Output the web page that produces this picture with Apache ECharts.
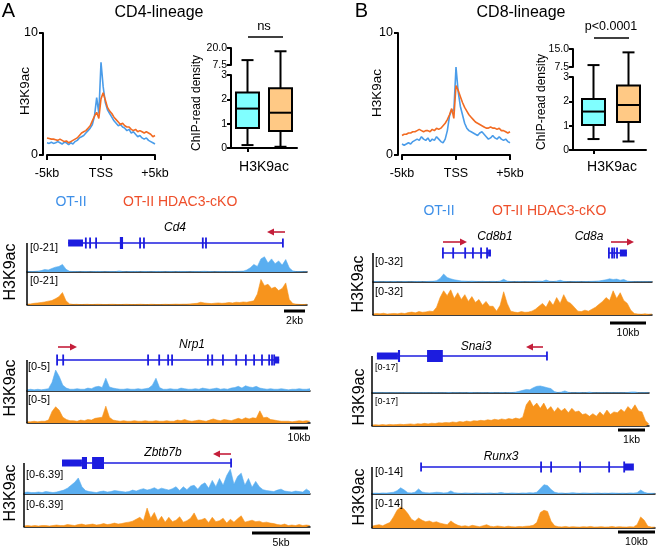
<!DOCTYPE html>
<html><head><meta charset="utf-8">
<script src="https://cdn.jsdelivr.net/npm/echarts@6/dist/echarts.min.js"></script>
<style>html,body{margin:0;padding:0;background:#fff}#c{width:658px;height:546px}</style>
</head><body><div id="c"></div>
<script>
// ---------------- DATA ----------------
// Profile plots: -5kb .. +5kb around TSS, 51 bins (0.2 kb)
const profTickIdx = [0, 25, 50];
const profTickLabels = ['-5kb', 'TSS', '+5kb'];
const profA_OTII = [1.0,0.95,1.05,0.95,1.0,1.1,1.0,0.9,1.05,1.0, 0.85,1.0,0.9,1.1,1.2,1.4,1.5,1.6,1.8,2.0, 2.2,2.5,3.2,4.7,3.4,7.6,5.6,4.3,3.7,3.4, 3.1,2.8,2.6,2.4,2.5,2.3,2.2,2.0,2.1,1.8, 1.9,1.7,1.5,1.6,1.4,1.3,1.4,1.2,1.1,1.0,0.9];
const profA_cKO  = [1.4,1.35,1.3,1.3,1.25,1.2,1.3,1.2,1.1,1.15, 1.0,1.1,1.2,1.3,1.4,1.6,1.8,1.9,2.0,2.2, 2.4,2.8,3.2,3.5,3.0,4.6,5.1,4.5,3.9,3.6, 3.4,3.1,2.9,2.7,2.5,2.6,2.4,2.3,2.3,2.1, 2.0,2.1,1.9,2.0,1.9,1.8,1.9,1.8,1.7,1.5,1.6];
const profB_OTII = [0.9,0.8,0.9,1.0,0.9,1.1,1.2,1.3,1.2,1.5, 1.3,1.2,1.4,1.1,1.3,1.2,1.5,1.3,1.1,1.0, 1.3,2.0,3.2,3.7,3.6,7.2,5.2,4.0,3.3,2.6, 2.2,2.0,1.9,1.8,1.7,1.6,1.8,1.9,1.7,1.5, 1.3,1.4,1.6,1.4,1.3,1.5,1.3,1.2,1.3,1.1,1.0];
const profB_cKO  = [1.6,1.7,1.7,1.8,1.8,1.9,1.9,2.0,2.1,2.0, 1.9,2.0,2.0,1.9,2.1,2.0,2.2,2.1,2.2,2.4, 2.6,2.9,3.3,3.8,3.0,5.7,5.3,4.8,4.3,3.9, 3.6,3.3,3.1,2.9,2.7,2.6,2.5,2.4,2.3,2.2, 2.2,2.3,2.2,2.2,2.1,2.2,2.0,2.0,1.9,1.8,1.9];

// Box plots: [min, q1, median, q3, max]
const boxCats = ['OT-II', 'OT-II HDAC3-cKO'];
const boxA_OTII = [0.12, 0.82, 1.62, 2.28, 11.1];
const boxA_cKO  = [0.05, 0.70, 1.45, 2.46, 17.6];
const boxB_OTII = [0.45, 1.03, 1.58, 2.10, 8.3];
const boxB_cKO  = [0.35, 1.15, 1.85, 2.65, 13.6];
const boxA_topTicks = [7.5, 20];
const boxB_topTicks = [7.5, 15];
const boxSig = ['ns', 'p<0.0001'];

// Genome browser tracks (80 bins each)
const cd4Max = 21, nrp1Max = 5, zbtbMax = 6.39, cd8Max = 32, snai3Max = 17, runx3Max = 14;
const cd4OTII = [0.3,0.3,0.4,0.6,1.0,1.8,1.5,2.5,3.5,4.0, 5.5,2.0,0.5,0.3,0.3,0.2,0.3,0.3,0.2,0.3, 0.4,0.3,0.2,0.3,0.3,0.3,0.8,0.3,0.2,0.3, 0.3,0.4,0.2,0.3,0.3,0.2,0.3,0.4,0.3,0.2, 0.3,0.3,0.2,0.4,0.3,0.3,0.2,0.3,0.3,0.4, 0.5,0.4,0.3,0.2,0.3,0.3,0.4,0.3,0.3,0.4, 0.5,0.6,1.5,3.0,5.5,4.0,9.5,11.0,6.5,9.5, 6.0,8.0,5.0,9.0,3.0,0.8,0.3,0.3,0.2,0.3];
const cd4cKO  = [0.6,0.8,1.2,1.5,1.8,2.2,2.8,3.2,4.5,6.0, 9.0,3.0,0.8,0.4,0.5,0.3,0.4,0.5,0.3,0.4, 0.5,0.4,0.3,0.4,0.5,0.4,0.3,0.4,0.5,0.4, 0.3,0.4,0.5,0.4,0.3,0.5,0.4,0.3,0.4,0.5, 0.4,0.5,0.6,0.5,0.6,0.6,0.8,1.0,1.2,2.0, 1.5,1.2,1.0,1.3,1.5,1.2,1.4,1.8,1.5,2.0, 1.8,2.2,2.0,2.5,3.0,8.0,18.5,14.0,15.0,12.0, 13.0,10.5,12.0,16.0,4.0,1.0,0.6,0.4,0.3,0.5];
const nrp1OTII = [0.2,0.3,0.2,0.3,0.2,0.3,0.4,1.5,3.6,2.5, 1.0,0.5,0.3,0.3,0.4,0.3,0.3,0.5,0.4,0.7, 0.8,0.6,2.2,0.7,0.5,0.4,0.3,0.3,0.4,0.3, 0.3,0.4,0.3,0.4,0.5,1.0,2.2,0.6,0.3,0.3, 0.4,0.3,0.3,0.5,0.4,0.3,0.3,0.4,0.3,0.5, 0.4,0.3,0.4,0.5,0.3,0.4,0.3,0.5,0.6,0.8, 0.5,0.9,0.7,0.6,0.8,0.5,0.4,0.3,0.4,0.3, 0.3,0.4,0.3,0.2,0.3,0.3,0.4,0.3,0.3,0.4];
const nrp1cKO  = [0.2,0.2,0.3,0.2,0.3,0.3,0.5,2.0,2.8,2.2, 1.0,0.6,0.4,0.4,0.3,0.5,0.4,0.6,0.5,0.8, 0.9,1.0,2.9,1.0,0.5,0.4,0.3,0.4,0.3,0.3, 0.4,0.3,0.3,0.4,0.3,0.3,0.4,0.3,0.3,0.4, 0.3,0.3,0.5,0.4,0.6,0.4,0.3,0.4,0.5,0.4, 0.3,0.5,0.7,0.5,0.4,0.6,0.5,0.4,0.6,0.8, 0.6,0.9,0.7,0.9,0.8,2.1,0.9,1.0,0.6,0.5, 0.4,0.3,0.3,0.3,0.2,0.3,0.4,0.3,0.4,0.3];
const zbtbOTII = [0.3,0.4,0.3,0.3,0.4,0.3,0.5,0.4,0.3,0.4, 0.6,0.8,1.2,1.8,2.4,3.3,1.5,0.7,0.5,0.4, 0.3,0.5,0.6,0.4,0.5,0.7,0.6,0.5,0.4,0.5, 0.8,0.6,0.9,1.1,0.8,1.0,1.3,0.9,1.2,1.0, 0.8,1.1,1.5,0.7,1.5,0.9,1.6,1.8,1.0,1.9, 2.3,1.2,2.8,1.5,3.2,1.8,3.8,5.1,2.0,3.6, 4.3,1.8,3.2,1.4,2.6,1.5,0.9,0.7,0.6,0.5, 0.8,1.0,0.6,0.5,0.4,0.6,0.5,0.4,1.0,0.5];
const zbtbcKO  = [0.2,0.3,0.2,0.3,0.2,0.3,0.3,0.2,0.3,0.4, 0.3,0.3,0.5,0.4,0.3,0.5,0.6,0.4,0.5,0.6, 0.4,0.5,0.7,0.5,0.6,0.8,0.6,0.7,0.9,1.0, 1.2,1.6,2.0,1.3,3.9,1.8,3.0,1.2,2.2,1.0, 2.0,1.1,1.4,2.1,1.0,1.3,1.8,2.9,1.4,1.5, 1.8,0.9,2.0,1.1,1.3,1.8,0.8,1.6,1.0,1.7, 2.3,1.0,1.2,1.4,1.1,1.2,0.9,1.0,0.8,0.7, 0.5,0.4,0.6,0.3,0.4,0.3,0.5,0.3,0.4,0.3];
const cd8OTII = [0.4,0.5,0.3,0.4,0.5,0.4,0.6,0.3,0.4,0.5, 0.4,0.3,0.5,0.6,0.4,0.5,0.7,0.8,1.5,4.0, 8.8,5.0,3.5,2.5,1.8,1.2,1.0,0.8,1.0,0.7, 0.6,0.8,0.5,0.6,0.7,0.5,1.0,3.0,1.0,0.5, 0.4,0.6,0.5,0.4,0.5,0.6,0.8,1.0,0.7,2.2, 0.8,0.6,1.0,2.0,0.7,0.5,0.4,0.5,0.6,0.4, 0.5,0.6,0.7,0.9,1.2,1.8,2.5,3.5,2.8,3.2, 2.0,2.8,1.0,0.5,0.4,0.3,0.4,0.3,0.3,0.4];
const cd8cKO  = [1.0,1.5,1.2,1.8,1.0,1.4,1.6,1.2,2.0,1.5, 2.5,3.0,2.2,3.5,2.8,3.2,4.0,3.5,8.0,18.0, 25.0,20.0,26.0,17.0,23.0,16.0,21.0,14.0,19.0,13.0, 16.0,10.0,14.0,9.0,9.0,4.0,10.0,24.0,12.0,4.0, 3.0,2.5,3.5,2.8,3.0,4.0,6.0,9.0,12.0,8.0, 15.0,10.0,18.0,12.0,21.0,14.0,12.0,8.0,4.0,3.5, 5.0,4.0,6.0,8.0,11.0,14.0,18.0,15.0,25.0,17.0, 23.0,15.0,12.0,5.0,1.5,1.0,0.8,1.2,0.8,1.0];
const snai3OTII = [0.1,0.2,0.1,0.1,0.2,0.1,0.1,0.2,0.1,0.1, 0.2,0.1,0.1,0.2,0.1,0.2,0.1,0.1,0.2,0.1, 0.1,0.2,0.3,0.1,0.2,0.1,0.2,0.1,0.3,0.2, 0.1,0.2,0.2,0.1,0.3,0.2,0.2,0.3,0.2,0.3, 0.3,0.5,1.0,1.5,2.0,1.8,3.0,3.8,4.0,3.5, 3.0,2.5,0.8,0.3,0.5,1.2,0.4,0.2,0.2,0.3, 0.2,0.2,0.5,0.2,0.1,0.2,0.2,0.1,0.2,0.1, 0.2,0.1,0.2,0.3,0.6,0.6,0.2,0.1,0.2,0.1];
const snai3cKO  = [0.5,0.7,0.5,0.8,0.6,0.9,0.7,0.8,1.0,0.8, 1.0,1.2,0.9,1.3,1.1,1.5,1.2,1.6,1.4,1.8, 1.7,2.0,1.8,2.3,2.0,2.5,2.2,2.8,2.4,3.0, 2.8,3.2,3.0,3.5,3.2,3.8,3.4,4.0,3.6,4.2, 3.8,4.5,4.0,5.0,12.0,14.7,11.0,13.0,10.0,13.0, 9.0,11.0,8.0,10.5,8.5,10.0,7.5,10.0,8.0,8.5, 6.5,7.0,5.5,7.0,5.5,8.0,6.0,9.0,6.5,8.0, 7.5,9.5,8.0,11.0,9.0,12.0,8.5,8.0,3.0,1.0];
const runx3OTII = [0.3,0.4,0.3,0.5,0.4,0.6,0.8,1.5,2.8,1.8, 0.6,0.5,0.8,2.3,0.9,0.6,0.5,0.6,0.8,0.7, 0.5,0.6,1.4,0.6,0.4,0.3,0.5,0.4,0.3,0.5, 0.4,0.3,0.4,0.5,0.3,0.4,0.7,0.4,0.3,0.5, 0.4,0.3,0.5,0.4,0.6,0.5,0.8,2.5,4.2,3.8, 2.0,0.8,0.4,0.5,0.3,0.4,0.6,0.4,0.3,0.5, 0.4,0.3,0.4,0.5,0.3,0.4,0.3,0.5,0.4,0.3, 0.4,0.3,0.5,0.4,0.6,1.8,0.8,0.3,0.3,0.3];
const runx3cKO  = [0.8,1.2,1.5,1.0,1.8,2.5,5.0,8.0,9.5,8.5, 6.5,4.0,3.0,4.5,3.5,2.8,3.2,2.5,2.8,2.2, 1.8,1.5,3.2,2.0,1.2,0.8,1.0,0.7,1.2,0.9, 0.6,1.0,1.5,0.8,0.6,0.9,0.7,0.5,0.8,0.6, 0.5,0.7,0.6,0.8,0.9,1.2,2.5,7.0,8.0,7.5, 3.0,1.0,0.6,0.5,0.7,0.4,0.6,0.5,0.4,0.6, 0.5,0.7,0.4,0.5,0.6,0.4,0.5,0.7,0.4,0.6, 0.5,0.4,0.6,0.5,1.5,5.0,3.5,0.8,0.4,0.4];

// Gene models (track bin units 0..79)
const cd4Span = [[11.6,72.2]], cd4Exons = [16.6,17.8,19.5,31.9,33.0,49.6,50.5], cd4Cds = [[26.2,27.1]], cd4Utr = [[11.6,15.8]], cd4Caps = [72.2];
const nrp1Span = [[8.4,70.4]], nrp1Exons = [8.4,10.1,33.8,36.9,39.4,40.5,50.5,51.7,54.7,58.4,61.1,63.4,65.6,67.6,68.4,69.0], nrp1Cds = [], nrp1Utr = [[69.2,70.4]], nrp1Caps = [];
const zbtbSpan = [[10.5,57.2]], zbtbExons = [], zbtbCds = [[16.0,17.4],[18.8,22.1]], zbtbUtr = [[10.5,16.0]], zbtbCaps = [57.2];
const cd8Span = [[19.8,33.4],[66.8,71.9]], cd8Exons = [19.8,22.7,26.1,28.3,30.6,32.3,66.8,67.7,68.3,69.1], cd8Cds = [], cd8Utr = [[32.6,33.4],[69.9,71.9]], cd8Caps = [];
const snai3Span = [[1.4,49.9]], snai3Exons = [], snai3Cds = [[7.4,8.0],[15.7,20.2]], snai3Utr = [[1.4,7.4]], snai3Caps = [49.9];
const runx3Span = [[13.7,72.9]], runx3Exons = [47.2,50.0,58.1,66.2,70.4], runx3Cds = [], runx3Utr = [[70.6,73.1]], runx3Caps = [13.7];
const geneNames = ['Cd4','Nrp1','Zbtb7b','Cd8b1','Cd8a','Snai3','Runx3'];
const scaleBarLabels = ['2kb','10kb','5kb','10kb','1kb','10kb'];

// ---------------- STYLE / LAYOUT ----------------
const FONT = '"Liberation Sans", Arial, Helvetica, sans-serif';
const LINE_BLUE = '#4a9ce9', LINE_ORANGE = '#f26b22';
const TRACK_BLUE = '#5aaef0', TRACK_ORANGE = '#f7941d';
const GENE_COLOR = '#1c1cdf', ARROW_COLOR = '#c41e3a';
const LEG_BLUE = '#3d8fe8', LEG_RED = '#ee4f2b';
const BOX_FILLS = ['#80ffff', '#ffc985'];

const grid = [], xAxis = [], yAxis = [], series = [], graphic = [];
function addGrid(g, xa, ya) { const i = grid.length; grid.push(g); xa.gridIndex = i; ya.gridIndex = i; xAxis.push(xa); yAxis.push(ya); return i; }
const blackLine = w => ({ show: true, lineStyle: { color: '#000', width: w } });
const profBins = profA_OTII.map((_, i) => i);
const trackBins = cd4OTII.map((_, i) => i);

function T(x, y, text, size, color, opt) {
  opt = opt || {};
  graphic.push({ type: 'text', x, y, rotation: opt.rot || 0, z: 100,
    style: { text, fontSize: size, fontFamily: FONT, fill: color || '#000', align: opt.align || 'center', verticalAlign: 'middle', fontStyle: opt.italic ? 'italic' : 'normal' } });
}
function L(x1, y1, x2, y2, w, color) {
  graphic.push({ type: 'line', z: 100, shape: { x1, y1, x2, y2 }, style: { stroke: color || '#000', lineWidth: w } });
}
function arrow(x1, x2, y) {
  const d = x2 > x1 ? 1 : -1;
  L(x1, y, x2 - d * 3, y, 1.6, ARROW_COLOR);
  graphic.push({ type: 'polygon', z: 100, shape: { points: [[x2, y], [x2 - d * 7, y - 3.5], [x2 - d * 7, y + 3.5]] }, style: { fill: ARROW_COLOR } });
}

// ---- profiles
function addProfile(left, otii, cko) {
  const isTick = idx => profTickIdx.indexOf(idx) >= 0;
  const i = addGrid({ left, top: 33, width: 108, height: 122 },
    { type: 'category', data: profBins, boundaryGap: false, offset: 8, axisLine: blackLine(2),
      axisTick: { show: true, interval: isTick, length: 5, lineStyle: { color: '#000', width: 2 } },
      axisLabel: { show: true, interval: isTick, formatter: (v, idx) => { const k = profTickIdx.indexOf(idx); return k >= 0 ? profTickLabels[k] : ''; }, fontSize: 12.5, color: '#000', fontFamily: FONT, margin: 4 },
      splitLine: { show: false } },
    { type: 'value', min: 0, max: 10, interval: 10, offset: 4, axisLine: blackLine(2),
      axisTick: { show: true, length: 4, lineStyle: { color: '#000', width: 2 } },
      axisLabel: { fontSize: 12.5, color: '#000', fontFamily: FONT, margin: 5 }, splitLine: { show: false } });
  series.push({ type: 'line', xAxisIndex: i, yAxisIndex: i, data: otii, symbol: 'none', lineStyle: { color: LINE_BLUE, width: 1.6 }, z: 2 });
  series.push({ type: 'line', xAxisIndex: i, yAxisIndex: i, data: cko, symbol: 'none', lineStyle: { color: LINE_ORANGE, width: 1.6 }, z: 3 });
}
addProfile(47, profA_OTII, profA_cKO);
addProfile(402, profB_OTII, profB_cKO);

// ---- box plots with broken y axis
const BREAK_GAP = 10, CUT = 3, TOP_MIN = 7.5, BOX_W = 23, CAP_W = 12;
function lowerRender(p, api) {
  const i = api.value(0);
  const mn = api.value(1), q1 = api.value(2), md = api.value(3), q3 = api.value(4), mx = api.value(5);
  const cx = api.coord([i, 0])[0];
  const Y = v => api.coord([i, Math.min(v, CUT)])[1];
  const ls = { stroke: '#000', lineWidth: 2 };
  const ch = [
    { type: 'line', shape: { x1: cx, y1: Y(q3), x2: cx, y2: Y(mx) }, style: ls },
    { type: 'line', shape: { x1: cx, y1: Y(q1), x2: cx, y2: Y(mn) }, style: ls },
    { type: 'line', shape: { x1: cx - CAP_W / 2, y1: Y(mn), x2: cx + CAP_W / 2, y2: Y(mn) }, style: ls },
    { type: 'rect', shape: { x: cx - BOX_W / 2, y: Y(q3), width: BOX_W, height: Y(q1) - Y(q3) }, style: { fill: BOX_FILLS[i], stroke: '#000', lineWidth: 2 } },
    { type: 'line', shape: { x1: cx - BOX_W / 2, y1: Y(md), x2: cx + BOX_W / 2, y2: Y(md) }, style: ls }
  ];
  if (mx <= CUT) ch.push({ type: 'line', shape: { x1: cx - CAP_W / 2, y1: Y(mx), x2: cx + CAP_W / 2, y2: Y(mx) }, style: ls });
  return { type: 'group', children: ch };
}
function upperRender(p, api) {
  const i = api.value(0), mx = api.value(1);
  const top = api.coord([i, mx]);
  const base = api.coord([i, TOP_MIN])[1] + BREAK_GAP;
  const ls = { stroke: '#000', lineWidth: 2 };
  return { type: 'group', children: [
    { type: 'line', shape: { x1: top[0], y1: top[1], x2: top[0], y2: base }, style: ls },
    { type: 'line', shape: { x1: top[0] - CAP_W / 2, y1: top[1], x2: top[0] + CAP_W / 2, y2: top[1] }, style: ls }
  ] };
}
function addBox(left, width, offset, topT, topMax, topTicks, topB, boxes) {
  const yLab = { fontSize: 10.5, color: '#000', fontFamily: FONT, margin: 4 };
  const tick = { show: true, length: 4, lineStyle: { color: '#000', width: 2 } };
  const iT = addGrid({ left, top: topT, width, height: topB - BREAK_GAP - topT },
    { type: 'category', data: boxCats, show: false },
    { type: 'value', min: TOP_MIN, max: topMax, offset, axisLine: blackLine(2),
      axisTick: Object.assign({ customValues: topTicks }, tick),
      axisLabel: Object.assign({ customValues: topTicks, formatter: v => Number(v).toFixed(1) }, yLab), splitLine: { show: false } });
  const iB = addGrid({ left, top: topB, width, height: 73 },
    { type: 'category', data: boxCats, axisLine: blackLine(2), axisTick: Object.assign({ alignWithLabel: true }, tick), axisLabel: { show: false } },
    { type: 'value', min: 0, max: CUT, interval: 1, offset, axisLine: blackLine(2), axisTick: tick, axisLabel: yLab, splitLine: { show: false } });
  series.push({ type: 'custom', xAxisIndex: iB, yAxisIndex: iB, clip: false, renderItem: lowerRender, encode: { x: 0, y: [1, 2, 3, 4, 5] }, data: boxes.map((b, k) => [k].concat(b)) });
  series.push({ type: 'custom', xAxisIndex: iT, yAxisIndex: iT, clip: false, renderItem: upperRender, encode: { x: 0, y: 1 }, data: boxes.map((b, k) => [k, b[4]]) });
}
addBox(231, 66, 0, 48, 20, boxA_topTicks, 75, [boxA_OTII, boxA_cKO]);
addBox(576, 70, 3, 49, 15, boxB_topTicks, 77, [boxB_OTII, boxB_cKO]);
L(573, 150, 577, 150, 2); // join B x axis to its offset y axis

// ---- tracks
const GENE_H = [1.6, 11, 12, 7, 9]; // span, exon, cds, utr, cap
function geneRender(p, api) {
  const s = api.value(0), e = api.value(1), k = api.value(2);
  const p1 = api.coord([s, 0.5]), p2 = api.coord([e, 0.5]);
  const h = GENE_H[k];
  let x = p1[0], w = p2[0] - p1[0];
  if (k === 1 || k === 4) { w = 1.8; x = p1[0] - 0.9; }
  return { type: 'rect', shape: { x, y: p1[1] - h / 2, width: w, height: h }, style: { fill: GENE_COLOR } };
}
function addLocus(o) {
  const xa = () => ({ type: 'category', data: trackBins, boundaryGap: false, axisLine: blackLine(1.5), axisTick: { show: false }, axisLabel: { show: false } });
  const ya = () => ({ type: 'value', min: 0, max: o.max, show: false, splitLine: { show: false } });
  const ib = addGrid({ left: o.left, width: o.width, top: o.bt, height: o.bb - o.bt }, xa(), ya());
  const io = addGrid({ left: o.left, width: o.width, top: o.ot, height: o.ob - o.ot }, xa(), ya());
  series.push({ type: 'line', xAxisIndex: ib, yAxisIndex: ib, data: o.blue, symbol: 'none', lineStyle: { color: TRACK_BLUE, width: 0.6 }, areaStyle: { color: TRACK_BLUE, opacity: 1 } });
  series.push({ type: 'line', xAxisIndex: io, yAxisIndex: io, data: o.orange, symbol: 'none', lineStyle: { color: TRACK_ORANGE, width: 0.6 }, areaStyle: { color: TRACK_ORANGE, opacity: 1 } });
  const ig = addGrid({ left: o.left, width: o.width, top: o.geneY - 8, height: 16 },
    { type: 'value', min: 0, max: trackBins.length - 1, show: false, splitLine: { show: false } },
    { type: 'value', min: 0, max: 1, show: false, splitLine: { show: false } });
  const g = o.gene;
  const items = [].concat(g.span.map(s => [s[0], s[1], 0]), g.exons.map(x => [x, x, 1]), g.cds.map(s => [s[0], s[1], 2]), g.utr.map(s => [s[0], s[1], 3]), g.caps.map(x => [x, x, 4]));
  series.push({ type: 'custom', xAxisIndex: ig, yAxisIndex: ig, clip: false, renderItem: geneRender, encode: { x: [0, 1], y: 2 }, data: items, z: 5 });
  L(o.left, o.geneY, o.left, o.ob, 1.5);
  const lab = '[0-' + o.max + ']';
  T(o.labX, o.labYb, lab, o.labSize, '#000', { align: 'left' });
  T(o.labX, o.labYo, lab, o.labSize, '#000', { align: 'left' });
  T(o.h3[0], o.h3[1], 'H3K9ac', 16, '#000', { rot: Math.PI / 2 });
  L(o.bar[0], o.bar[2], o.bar[1], o.bar[2], 3);
  T((o.bar[0] + o.bar[1]) / 2, o.bar[2] + 10, o.barLabel, 10.5);
}
addLocus({ left: 27, width: 280, bt: 243, bb: 272, ot: 276, ob: 305, max: cd4Max, blue: cd4OTII, orange: cd4cKO, geneY: 243,
  gene: { span: cd4Span, exons: cd4Exons, cds: cd4Cds, utr: cd4Utr, caps: cd4Caps }, labX: 30, labYb: 248, labYo: 281, labSize: 11, h3: [11, 272], bar: [284, 305, 311], barLabel: scaleBarLabels[0] });
addLocus({ left: 27, width: 283, bt: 362, bb: 391, ot: 394, ob: 423, max: nrp1Max, blue: nrp1OTII, orange: nrp1cKO, geneY: 360,
  gene: { span: nrp1Span, exons: nrp1Exons, cds: nrp1Cds, utr: nrp1Utr, caps: nrp1Caps }, labX: 28, labYb: 367, labYo: 400, labSize: 11, h3: [11, 388], bar: [290, 308, 428], barLabel: scaleBarLabels[1] });
addLocus({ left: 24, width: 286, bt: 463, bb: 494, ot: 496, ob: 527, max: zbtbMax, blue: zbtbOTII, orange: zbtbcKO, geneY: 463,
  gene: { span: zbtbSpan, exons: zbtbExons, cds: zbtbCds, utr: zbtbUtr, caps: zbtbCaps }, labX: 26, labYb: 475, labYo: 505, labSize: 11, h3: [11, 493], bar: [252, 310, 533], barLabel: scaleBarLabels[2] });
addLocus({ left: 373, width: 279, bt: 253, bb: 282, ot: 284, ob: 315, max: cd8Max, blue: cd8OTII, orange: cd8cKO, geneY: 253,
  gene: { span: cd8Span, exons: cd8Exons, cds: cd8Cds, utr: cd8Utr, caps: cd8Caps }, labX: 375, labYb: 262, labYo: 292, labSize: 11, h3: [359, 284], bar: [610, 646, 323], barLabel: scaleBarLabels[3] });
addLocus({ left: 372, width: 277, bt: 363, bb: 393, ot: 396, ob: 426, max: snai3Max, blue: snai3OTII, orange: snai3cKO, geneY: 356,
  gene: { span: snai3Span, exons: snai3Exons, cds: snai3Cds, utr: snai3Utr, caps: snai3Caps }, labX: 375, labYb: 368, labYo: 402, labSize: 9, h3: [360, 397], bar: [618, 645, 430], barLabel: scaleBarLabels[4] });
addLocus({ left: 372, width: 283, bt: 463, bb: 494, ot: 497, ob: 528, max: runx3Max, blue: runx3OTII, orange: runx3cKO, geneY: 467,
  gene: { span: runx3Span, exons: runx3Exons, cds: runx3Cds, utr: runx3Utr, caps: runx3Caps }, labX: 375, labYb: 472, labYo: 504, labSize: 11, h3: [360, 497], bar: [618, 655, 532], barLabel: scaleBarLabels[5] });

// ---- annotations
T(8.5, 11, 'A', 20); T(361.5, 11, 'B', 20);
T(159, 13, 'CD4-lineage', 16); T(521, 13, 'CD8-lineage', 16);
T(25, 91, 'H3K9ac', 13.5, '#000', { rot: Math.PI / 2 });
T(377, 93, 'H3K9ac', 13.5, '#000', { rot: Math.PI / 2 });
T(197, 103, 'ChIP-read density', 12, '#000', { rot: Math.PI / 2 });
T(542, 102, 'ChIP-read density', 12, '#000', { rot: Math.PI / 2 });
T(264, 167, 'H3K9ac', 14); T(612, 167, 'H3K9ac', 14);
T(264, 26, boxSig[0], 13); L(248, 37, 283, 37, 1.5);
T(611, 27, boxSig[1], 12.5); L(594, 38, 629, 38, 1.5);
T(71, 202, 'OT-II', 14, LEG_BLUE); T(123, 202, 'OT-II HDAC3-cKO', 14, LEG_RED, { align: 'left' });
T(439, 211, 'OT-II', 14, LEG_BLUE); T(492, 211, 'OT-II HDAC3-cKO', 14, LEG_RED, { align: 'left' });
T(175, 228, geneNames[0], 12, '#000', { italic: true });
T(192, 345, geneNames[1], 12, '#000', { italic: true });
T(163, 453, geneNames[2], 12, '#000', { italic: true });
T(495, 237, geneNames[3], 12, '#000', { italic: true });
T(589, 237, geneNames[4], 12, '#000', { italic: true });
T(476, 347, geneNames[5], 12, '#000', { italic: true });
T(501, 457, geneNames[6], 12, '#000', { italic: true });
arrow(285, 267, 232); arrow(58, 77, 347); arrow(231, 213, 454);
arrow(443, 467, 242); arrow(611, 634, 242); arrow(543, 526, 347);

const chart = echarts.init(document.getElementById('c'), null, { renderer: 'canvas' });
chart.setOption({ animation: false, backgroundColor: '#fff', grid, xAxis, yAxis, series, graphic });
</script></body></html>
